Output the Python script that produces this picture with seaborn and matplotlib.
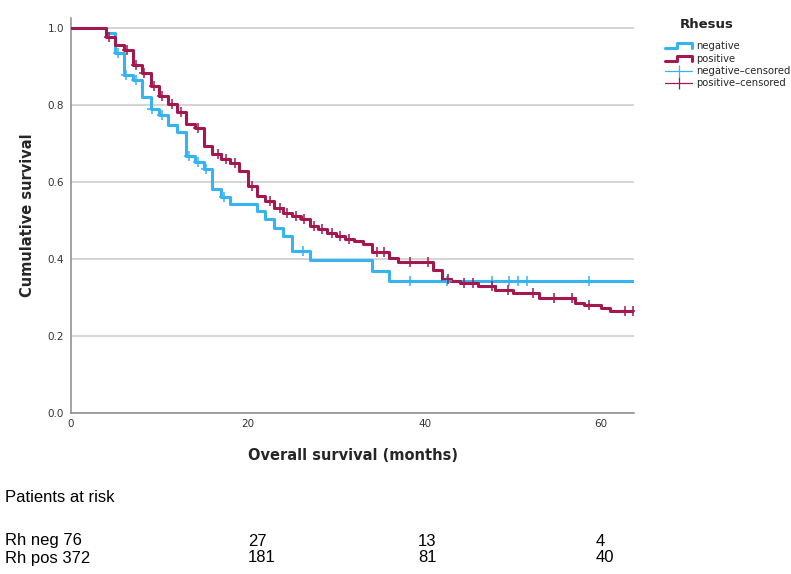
import numpy as np
import pandas as pd
import matplotlib
matplotlib.use("Agg")
import matplotlib.pyplot as plt
import seaborn as sns
from matplotlib.lines import Line2D
from matplotlib.legend_handler import HandlerBase

# ---------------- data ----------------
neg_time = [0, 4, 5, 6, 7, 8, 9, 10, 11, 12, 13, 14, 15, 16, 17, 18, 21, 22, 23, 24, 25, 27, 34, 36]
neg_surv = [1.0, 0.988, 0.937, 0.878, 0.865, 0.822, 0.791, 0.774, 0.748, 0.731, 0.667, 0.652,
            0.634, 0.582, 0.561, 0.543, 0.525, 0.504, 0.482, 0.460, 0.421, 0.397, 0.370, 0.344]
neg_censor = [5.3, 6.2, 7.3, 9.2, 10.3, 13.3, 14.4, 15.3, 17.3, 26.3, 38.4, 42.5,
              47.6, 49.6, 50.6, 51.6, 58.6]

pos_time = [0, 4, 5, 6, 7, 8, 9, 10, 11, 12, 13, 14, 15, 16, 17, 18, 19, 20, 21, 22, 23, 24,
            25, 26, 27, 28, 29, 30, 31, 32, 33, 34, 36, 37, 41, 42, 43, 44, 46, 48, 50, 53,
            57, 58, 60, 61]
pos_surv = [1.0, 0.977, 0.957, 0.943, 0.904, 0.885, 0.850, 0.823, 0.804, 0.783, 0.752, 0.742,
            0.695, 0.674, 0.661, 0.649, 0.630, 0.591, 0.565, 0.550, 0.533, 0.519, 0.513, 0.504,
            0.487, 0.478, 0.469, 0.460, 0.452, 0.447, 0.439, 0.418, 0.404, 0.392, 0.373, 0.348,
            0.343, 0.338, 0.329, 0.321, 0.312, 0.298, 0.287, 0.280, 0.272, 0.265]
pos_censor = [4.3, 6.3, 7.3, 8.3, 9.4, 10.3, 11.4, 12.4, 14.4, 16.6, 17.5, 18.5, 20.5, 22.5,
              23.6, 24.4, 25.5, 26.4, 27.5, 28.4, 29.5, 30.4, 31.5, 34.6, 35.4, 38.4, 40.4,
              42.7, 44.5, 45.5, 47.6, 49.5, 52.3, 54.6, 56.7, 58.6, 62.7, 63.6]

follow_up_end = 63.7

risk_rows = ["Rh neg", "Rh pos"]
risk_start = [76, 372]
risk_neg = [27, 13, 4]
risk_pos = [181, 81, 40]

x_ticks = [0, 20, 40, 60]
y_ticks = [0.0, 0.2, 0.4, 0.6, 0.8, 1.0]

groups = ["negative", "positive"]
colors = {"negative": "#36B4F2", "positive": "#A3194F"}

# ---------------- frames ----------------
def curve_df(times, surv, name):
    t = list(times) + [follow_up_end]
    s = list(surv) + [surv[-1]]
    return pd.DataFrame({"time": t, "surv": s, "group": name})

def censor_df(times, surv, ctimes, name):
    idx = np.searchsorted(np.array(times), np.array(ctimes), side="right") - 1
    return pd.DataFrame({"time": ctimes, "surv": np.array(surv)[idx], "group": name})

curves = pd.concat([curve_df(neg_time, neg_surv, "negative"),
                    curve_df(pos_time, pos_surv, "positive")], ignore_index=True)
cens = pd.concat([censor_df(neg_time, neg_surv, neg_censor, "negative"),
                  censor_df(pos_time, pos_surv, pos_censor, "positive")], ignore_index=True)

# ---------------- plot ----------------
sns.set_style("white")
plt.rcParams["font.family"] = ["DejaVu Sans"]

fig = plt.figure(figsize=(7.91, 5.74), dpi=100)
ax = fig.add_axes([71 / 791, (574 - 413) / 574, (634 - 71) / 791, (413 - 18) / 574])

for g in groups:
    d = curves[curves.group == g]
    sns.lineplot(data=d, x="time", y="surv", ax=ax, color=colors[g], lw=2.2,
                 drawstyle="steps-post", estimator=None, sort=False, legend=False, zorder=3)
for g in groups:
    d = cens[cens.group == g]
    sns.scatterplot(data=d, x="time", y="surv", ax=ax, color=colors[g], marker="+",
                    s=55, linewidth=1.1, legend=False, zorder=4)

ax.set_xlim(0, follow_up_end)
ax.set_ylim(0, 1.027)
ax.set_xticks(x_ticks)
ax.set_yticks(y_ticks)
ax.set_yticklabels([f"{v:.1f}" for v in y_ticks])
ax.tick_params(axis="both", labelsize=7.5, colors="#333333", length=3, width=0.8,
               direction="out", pad=2)
ax.tick_params(axis="x", length=0, pad=4)
ax.yaxis.grid(True, color="#c9c9c9", lw=1.1, zorder=0)
ax.xaxis.grid(False)
for side in ["top", "right"]:
    ax.spines[side].set_visible(False)
for side in ["left", "bottom"]:
    ax.spines[side].set_color("#8a8a8a")
    ax.spines[side].set_linewidth(1.1)

ax.set_xlabel("Overall survival (months)", fontsize=10.5, fontweight="bold", labelpad=14)
ax.set_ylabel("Cumulative survival", fontsize=10.5, fontweight="bold", labelpad=9)

# legend
class StepHandler(HandlerBase):
    def create_artists(self, legend, orig, xd, yd, w, h, fs, trans):
        xs = [xd, xd + 0.45 * w, xd + 0.45 * w, xd + w, xd + w]
        ys = [yd + 0.1 * h, yd + 0.1 * h, yd + 0.85 * h, yd + 0.85 * h, yd + 0.1 * h]
        return [Line2D(xs, ys, color=orig.get_color(), lw=orig.get_linewidth(),
                       transform=trans)]

h_neg = Line2D([], [], color=colors["negative"], lw=2.2)
h_pos = Line2D([], [], color=colors["positive"], lw=2.2)
h_negc = Line2D([], [], color=colors["negative"], lw=0.9, marker="|", markersize=9, mew=0.9)
h_posc = Line2D([], [], color=colors["positive"], lw=0.9, marker="|", markersize=9, mew=0.9)
fig.text(707 / 791, 1 - 24 / 574, "Rhesus", ha="center", va="center",
         fontsize=9.5, fontweight="bold", color="#222222")
leg = fig.legend([h_neg, h_pos, h_negc, h_posc],
                 ["negative", "positive", "negative\u2013censored", "positive\u2013censored"],
                 handler_map={h_neg: StepHandler(), h_pos: StepHandler()},
                 loc="upper left", bbox_to_anchor=(664 / 791, 1 - 40 / 574),
                 frameon=False, fontsize=7.2,
                 handlelength=2.7, handletextpad=0.4, labelspacing=0.25,
                 borderpad=0.1, borderaxespad=0)

# risk table
rfont = dict(family=["Liberation Sans Narrow", "Liberation Sans", "DejaVu Sans"],
             fontsize=12, color="black")
fig.text(5 / 791, 1 - 498 / 574, "Patients at risk", va="center", ha="left", **rfont)
row_y = [541, 558]
col_x = [248, 418, 596]
for r, (lab, start, vals) in enumerate(zip(risk_rows, risk_start, [risk_neg, risk_pos])):
    fig.text(5 / 791, 1 - row_y[r] / 574, f"{lab} {start}", va="center", ha="left", **rfont)
    for cx, v in zip(col_x, vals):
        fig.text(cx / 791, 1 - row_y[r] / 574, str(v), va="center", ha="left", **rfont)

fig.savefig("out.png", dpi=100)
